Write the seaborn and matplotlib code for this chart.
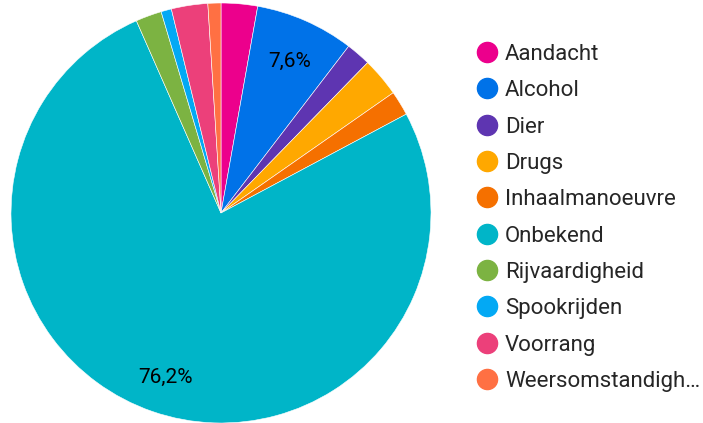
import matplotlib.pyplot as plt
import matplotlib.transforms as mtransforms
import seaborn as sns
from matplotlib.lines import Line2D

categories = ["Aandacht", "Alcohol", "Dier", "Drugs", "Inhaalmanoeuvre",
              "Onbekend", "Rijvaardigheid", "Spookrijden", "Voorrang",
              "Weersomstandigheden"]
legend_labels = categories[:-1] + ["Weersomstandigh\u2026"]
shares = [2.8, 7.6, 1.9, 3.0, 1.9, 76.2, 2.0, 0.8, 2.8, 1.0]
colors = ["#EC008C", "#0072E8", "#5E35B1", "#FFA800", "#F57000",
          "#00B5C8", "#7CB342", "#03A9F4", "#EC407A", "#FF7043"]

sns.set_theme(style="white")
plt.rcParams['font.family'] = ['Roboto', 'DejaVu Sans']

fig = plt.figure(figsize=(7.03, 4.23), dpi=100)
ax = fig.add_axes([11 / 703, 0 / 423, 420 / 703, 420 / 423])


def fmt(p):
    return f"{p:.1f}%".replace(".", ",") if p > 5 else ""


wedges, texts, autotexts = ax.pie(
    shares, colors=colors, startangle=90, counterclock=False,
    autopct=fmt, pctdistance=0.81,
    wedgeprops=dict(edgecolor="white", linewidth=0.4),
    textprops=dict(fontsize=15, color="black"))
# nudge percentage labels down a little
for t in autotexts:
    t.set_transform(mtransforms.offset_copy(t.get_transform(), fig=fig,
                                            x=0, y=-4, units="dots"))
ax.set_xlim(-1.0, 1.0)
ax.set_ylim(-1.0, 1.0)

handles = [Line2D([], [], marker="o", linestyle="", markersize=14.5,
                  markerfacecolor=c, markeredgecolor=c) for c in colors]
fig.legend(handles, legend_labels, loc="upper left",
           bbox_to_anchor=(466 / 703, 1 - 35 / 423), frameon=False,
           fontsize=16, labelspacing=0.69, handletextpad=0.25,
           handlelength=1.1, borderaxespad=0)

fig.savefig("out.png", dpi=100)
